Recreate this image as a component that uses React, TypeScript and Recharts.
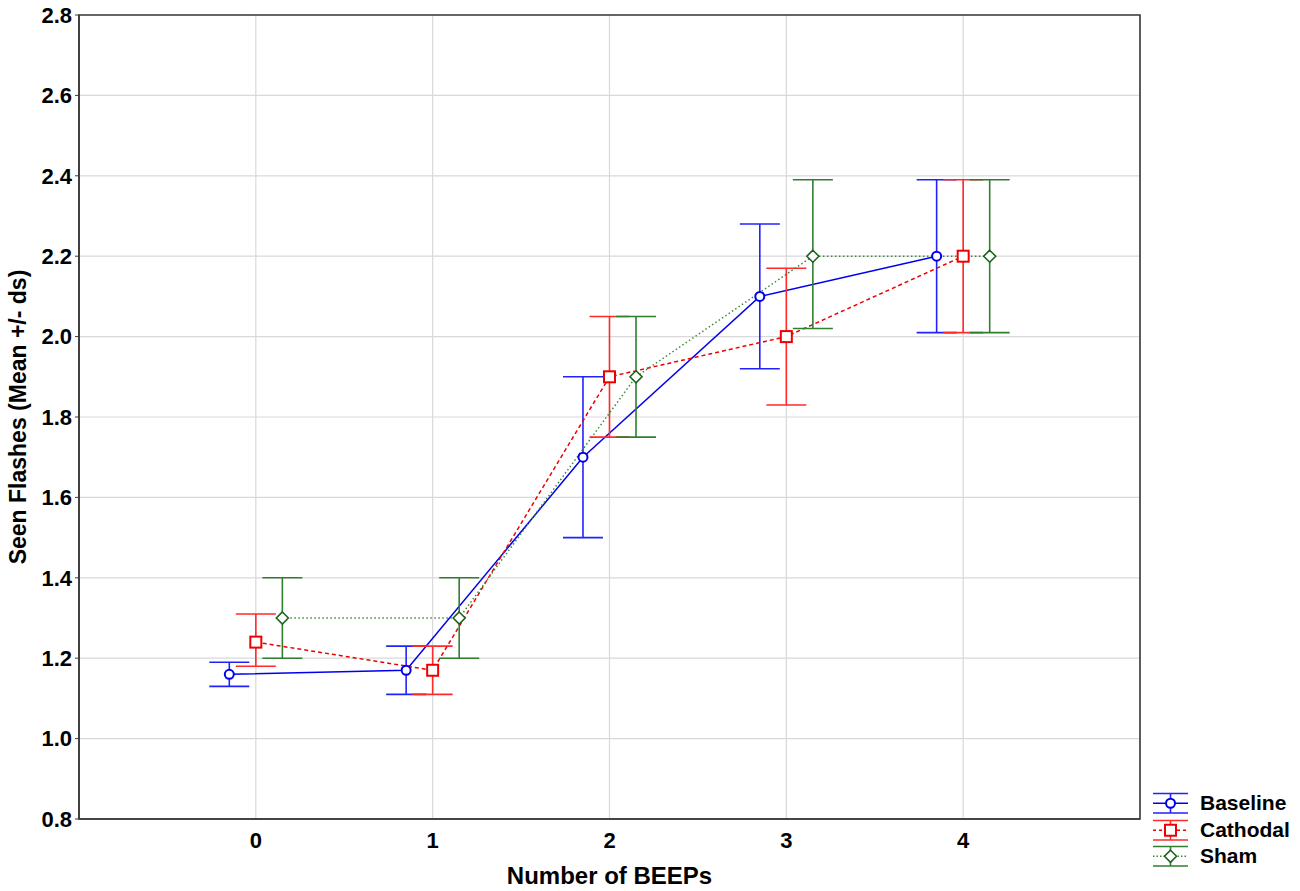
import React from 'react';
import {
  ComposedChart,
  Line,
  XAxis,
  YAxis,
  CartesianGrid,
  ErrorBar,
  ReferenceArea,
  Legend,
} from 'recharts';

// ---- data ----
const beeps = [0, 1, 2, 3, 4];
const xTicks = [0, 1, 2, 3, 4];
const yTicks = [0.8, 1.0, 1.2, 1.4, 1.6, 1.8, 2.0, 2.2, 2.4, 2.6, 2.8];

const baselineMean = [1.16, 1.17, 1.7, 2.1, 2.2];
const baselineLow = [1.13, 1.11, 1.5, 1.92, 2.01];
const baselineHigh = [1.19, 1.23, 1.9, 2.28, 2.39];

const cathodalMean = [1.24, 1.17, 1.9, 2.0, 2.2];
const cathodalLow = [1.18, 1.11, 1.75, 1.83, 2.01];
const cathodalHigh = [1.31, 1.23, 2.05, 2.17, 2.39];

const shamMean = [1.3, 1.3, 1.9, 2.2, 2.2];
const shamLow = [1.2, 1.2, 1.75, 2.02, 2.01];
const shamHigh = [1.4, 1.4, 2.05, 2.39, 2.39];

const seriesNames = ['Baseline', 'Cathodal', 'Sham'];

// ---- styling ----
const FONT = '"Liberation Sans", Arial, sans-serif';
const BLUE = '#0000ee';
const BLUE_BAR = '#2222ff';
const RED = '#ee0000';
const RED_BAR = '#ff2a2a';
const GREEN = '#3a8a3a';
const GREEN_BAR = '#2f7f2f';
const GREEN_DOT = '#1b651b';

const makeSeries = (mean: number[], low: number[], high: number[], shift: number) =>
  beeps.map((b, i) => ({
    x: b + shift,
    y: mean[i],
    err: [mean[i] - low[i], high[i] - mean[i]],
  }));

const baselineData = makeSeries(baselineMean, baselineLow, baselineHigh, -0.15);
const cathodalData = makeSeries(cathodalMean, cathodalLow, cathodalHigh, 0);
const shamData = makeSeries(shamMean, shamLow, shamHigh, 0.15);

const CircleMark = ({ cx, cy }: { cx: number; cy: number }) => (
  <circle cx={cx} cy={cy} r={4.5} fill="#fff" stroke={BLUE} strokeWidth={2} />
);
const SquareMark = ({ cx, cy }: { cx: number; cy: number }) => (
  <rect x={cx - 5.5} y={cy - 5.5} width={11} height={11} fill="#fff" stroke={RED} strokeWidth={2} />
);
const DiamondMark = ({ cx, cy }: { cx: number; cy: number }) => (
  <polygon
    points={`${cx},${cy - 6} ${cx + 6},${cy} ${cx},${cy + 6} ${cx - 6},${cy}`}
    fill="#fff"
    stroke={GREEN_DOT}
    strokeWidth={1.6}
  />
);

const dotFn = (Mark: any, prefix: string) => (props: any) => {
  const { cx, cy, index } = props;
  if (cx == null || cy == null) return <g key={`${prefix}-${index}`} />;
  return (
    <g key={`${prefix}-${index}`}>
      <Mark cx={cx} cy={cy} />
    </g>
  );
};

const legendStyles: Record<string, any> = {
  Baseline: { bar: BLUE_BAR, line: BLUE, dash: undefined, Mark: CircleMark },
  Cathodal: { bar: RED_BAR, line: RED, dash: '3 3', Mark: SquareMark },
  Sham: { bar: GREEN_BAR, line: GREEN, dash: '1.5 2', Mark: DiamondMark },
};

const LegendContent = (props: any) => {
  const payload = props.payload || [];
  const names = payload.length ? payload.map((p: any) => p.value) : seriesNames;
  return (
    <div style={{ fontFamily: FONT, fontWeight: 'bold', fontSize: 21, color: '#000' }}>
      {names.map((name: string) => {
        const s = legendStyles[name];
        return (
          <div key={name} style={{ display: 'flex', alignItems: 'center', height: 26.5 }}>
            <svg width={40} height={26.5} style={{ overflow: 'visible' }}>
              <line x1={3} x2={38} y1={3.5} y2={3.5} stroke={s.bar} strokeWidth={1.6} />
              <line x1={3} x2={38} y1={23} y2={23} stroke={s.bar} strokeWidth={1.6} />
              <line x1={20.5} x2={20.5} y1={3.5} y2={23} stroke={s.bar} strokeWidth={1.6} />
              <line x1={3} x2={38} y1={13.25} y2={13.25} stroke={s.line} strokeWidth={1.6} strokeDasharray={s.dash} />
              <s.Mark cx={20.5} cy={13.25} />
            </svg>
            <span style={{ marginLeft: 10, lineHeight: '26px' }}>{name}</span>
          </div>
        );
      })}
    </div>
  );
};

const YLabel = (props: any) => {
  const vb = props.viewBox || { y: 15, height: 804 };
  const cy = vb.y + vb.height / 2;
  return (
    <text
      x={18}
      y={cy}
      transform={`rotate(-90, 18, ${cy})`}
      textAnchor="middle"
      dominantBaseline="central"
      fontFamily={FONT}
      fontWeight="bold"
      fontSize={23}
      fill="#000"
    >
      Seen Flashes (Mean +/- ds)
    </text>
  );
};

export default function App() {
  return (
    <div style={{ position: 'absolute', left: 0, top: 0, width: 1300, height: 891, background: '#fff' }}>
      <ComposedChart
        width={1300}
        height={891}
        margin={{ top: 15, right: 160, bottom: 0, left: 0 }}
        style={{ fontFamily: FONT }}
      >
        <CartesianGrid stroke="#d9d9d9" strokeWidth={1.2} />
        <XAxis
          dataKey="x"
          type="number"
          domain={[-1, 5]}
          ticks={xTicks}
          allowDataOverflow
          height={72}
          tickSize={6}
          tickLine={false}
          tickMargin={7}
          axisLine={{ stroke: '#3a3a3a', strokeWidth: 1.6 }}
          tick={{ fill: '#000', fontSize: 22, fontWeight: 'bold', fontFamily: FONT }}
          label={{
            value: 'Number of BEEPs',
            position: 'insideBottom',
            offset: 7,
            fill: '#000',
            fontSize: 24,
            fontWeight: 'bold',
            fontFamily: FONT,
          }}
        />
        <YAxis
          type="number"
          domain={[0.8, 2.8]}
          ticks={yTicks}
          allowDataOverflow
          width={79}
          tickSize={4}
          tickMargin={3}
          tickFormatter={(v: number) => v.toFixed(1)}
          tickLine={{ stroke: '#3a3a3a' }}
          axisLine={{ stroke: '#3a3a3a', strokeWidth: 1.6 }}
          tick={{ fill: '#000', fontSize: 22, fontWeight: 'bold', fontFamily: FONT }}
          label={<YLabel />}
        />
        <ReferenceArea
          x1={-1}
          x2={5}
          y1={0.8}
          y2={2.8}
          fill="none"
          fillOpacity={0}
          stroke="#3a3a3a"
          strokeWidth={1.6}
          ifOverflow="visible"
        />
        <Line
          name="Baseline"
          data={baselineData}
          dataKey="y"
          stroke={BLUE}
          strokeWidth={1.5}
          isAnimationActive={false}
          dot={dotFn(CircleMark, 'b')}
          activeDot={false}
        >
          <ErrorBar dataKey="err" direction="y" width={20} stroke={BLUE_BAR} strokeWidth={1.6} />
        </Line>
        <Line
          name="Cathodal"
          data={cathodalData}
          dataKey="y"
          stroke={RED}
          strokeWidth={1.5}
          strokeDasharray="4 3"
          isAnimationActive={false}
          dot={dotFn(SquareMark, 'c')}
          activeDot={false}
        >
          <ErrorBar dataKey="err" direction="y" width={20} stroke={RED_BAR} strokeWidth={1.6} />
        </Line>
        <Line
          name="Sham"
          data={shamData}
          dataKey="y"
          stroke={GREEN}
          strokeWidth={1.5}
          strokeDasharray="1.5 2.5"
          isAnimationActive={false}
          dot={dotFn(DiamondMark, 's')}
          activeDot={false}
        >
          <ErrorBar dataKey="err" direction="y" width={20} stroke={GREEN_BAR} strokeWidth={1.6} />
        </Line>
        <Legend
          layout="horizontal"
          verticalAlign="middle"
          align="center"
          content={<LegendContent />}
          wrapperStyle={{ left: 1150, top: 790, width: 150, height: 85 }}
        />
      </ComposedChart>
    </div>
  );
}
